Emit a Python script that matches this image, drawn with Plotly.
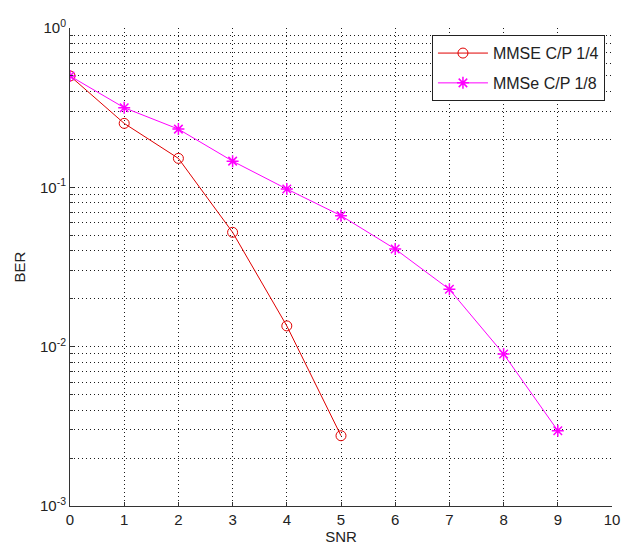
import plotly.graph_objects as go

snr_a = [0, 1, 2, 3, 4, 5]
ber_a = [0.5, 0.252, 0.152, 0.0522, 0.0135, 0.00276]
snr_b = [0, 1, 2, 3, 4, 5, 6, 7, 8, 9]
ber_b = [0.5, 0.316, 0.232, 0.146, 0.0976, 0.0664, 0.041, 0.0229, 0.0090, 0.00297]
name_a = "MMSE C/P 1/4"
name_b = "MMSe C/P 1/8"
x_ticks = list(range(0, 11))
y_ticks = [1e-3, 1e-2, 1e-1, 1e0]
y_ticktext = ["10<sup>-3</sup>", "10<sup>-2</sup>", "10<sup>-1</sup>", "10<sup>0</sup>"]
y_minor = [m * 10.0 ** e for e in (-3, -2, -1) for m in range(2, 10)]

FONT = "Liberation Sans, Arial, sans-serif"
GRID = dict(showgrid=True, gridcolor="#1a1a1a", gridwidth=1, griddash="1px,3px")

fig = go.Figure()
fig.add_trace(go.Scatter(
    x=snr_a, y=ber_a, name=name_a, mode="lines+markers", legendgroup="a",
    line=dict(color="#e00000", width=1),
    marker=dict(symbol="circle-open", size=10, color="#e00000", line=dict(width=1)),
))
fig.add_trace(go.Scatter(
    x=snr_b, y=ber_b, name=name_b, mode="lines+markers", legendgroup="b",
    line=dict(color="#ff00ff", width=1),
    marker=dict(symbol="asterisk-open", size=10, color="#ff00ff", line=dict(width=1.5, color="#ff00ff")),
))

fig.update_layout(
    width=629, height=553,
    margin=dict(l=70, r=9, t=28, b=47),
    paper_bgcolor="white", plot_bgcolor="white",
    font=dict(family=FONT, size=15, color="#222"),
    showlegend=True,
    legend=dict(
        x=0.987, y=0.985, xanchor="right", yanchor="top",
        bgcolor="white", bordercolor="#222", borderwidth=1,
        font=dict(family=FONT, size=16, color="#222"),
        tracegroupgap=6, itemwidth=50,
    ),
    xaxis=dict(
        range=[0, 10], tickvals=x_ticks, ticks="inside", ticklen=4, tickcolor="#333",
        showline=True, linecolor="#333", linewidth=1, mirror=False, zeroline=False,
        title=dict(text="SNR", standoff=4, font=dict(size=15)),
        **GRID,
    ),
    yaxis=dict(
        type="log", range=[-3, 0], tickvals=y_ticks, ticktext=y_ticktext,
        ticks="inside", ticklen=4, tickcolor="#333",
        showline=True, linecolor="#333", linewidth=1, mirror=False, zeroline=False,
        title=dict(text="BER", standoff=10, font=dict(size=15)),
        minor=dict(tickvals=y_minor, ticks="inside", ticklen=3, tickcolor="#333",
                   showgrid=True, gridcolor="#1a1a1a", gridwidth=1, griddash="1px,3px"),
        **GRID,
    ),
)

fig.write_html("out.html")
